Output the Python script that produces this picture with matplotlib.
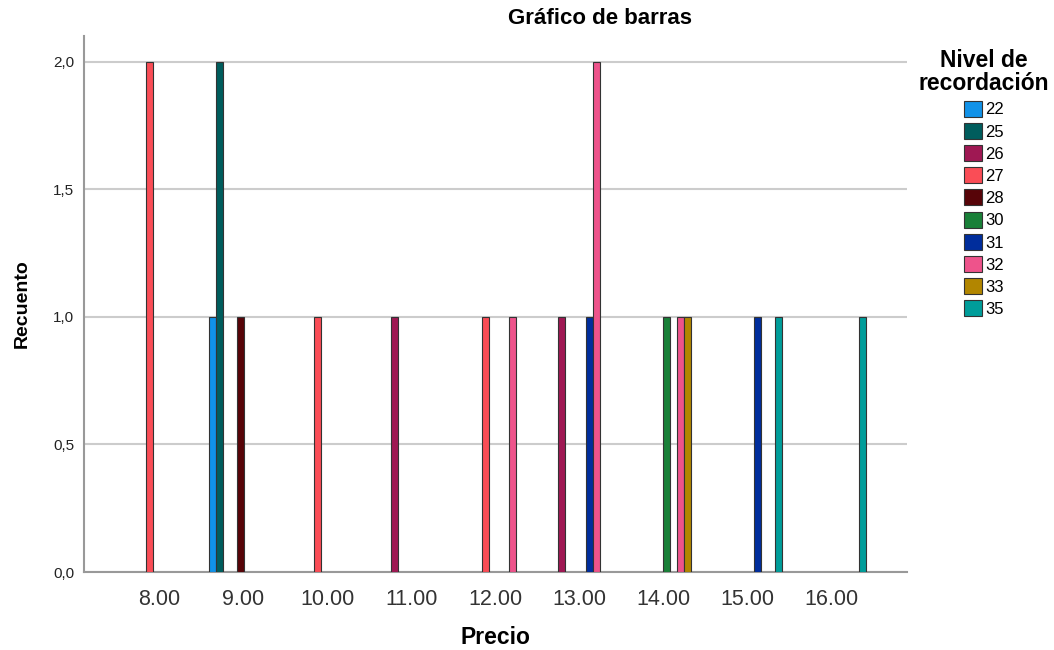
import matplotlib
matplotlib.use("Agg")
import matplotlib.pyplot as plt
from matplotlib.patches import Patch
import numpy as np

plt.rcParams['font.family'] = ['Liberation Sans', 'DejaVu Sans']

precios = ["8.00", "9.00", "10.00", "11.00", "12.00", "13.00", "14.00", "15.00", "16.00"]
niveles = ["22", "25", "26", "27", "28", "30", "31", "32", "33", "35"]
colores = ["#1192e8", "#005d5d", "#9f1853", "#fa4d56", "#570408",
           "#198038", "#002d9c", "#ee538b", "#b28600", "#009d9a"]

# recuento[nivel][precio]
recuento = {
    "22": [0, 1, 0, 0, 0, 0, 0, 0, 0],
    "25": [0, 2, 0, 0, 0, 0, 0, 0, 0],
    "26": [0, 0, 0, 1, 0, 1, 0, 0, 0],
    "27": [2, 0, 1, 0, 1, 0, 0, 0, 0],
    "28": [0, 1, 0, 0, 0, 0, 0, 0, 0],
    "30": [0, 0, 0, 0, 0, 0, 1, 0, 0],
    "31": [0, 0, 0, 0, 0, 1, 0, 1, 0],
    "32": [0, 0, 0, 0, 1, 2, 1, 0, 0],
    "33": [0, 0, 0, 0, 0, 0, 1, 0, 0],
    "35": [0, 0, 0, 0, 0, 0, 0, 1, 1],
}

fig = plt.figure(figsize=(10.54, 6.5), dpi=100)
ax = fig.add_axes([84/1054, 78/650, 823/1054, 536/650])

x = np.arange(len(precios))
w = 1/12

for j, (nivel, color) in enumerate(zip(niveles, colores)):
    vals = np.array(recuento[nivel])
    mask = vals > 0
    ax.bar(x[mask] + (j - 4.5) * w, vals[mask], width=w, color=color,
           edgecolor="#333333", linewidth=0.8, zorder=3)

ax.set_xlim(-0.9, len(precios) - 1 + 0.9)
ax.set_ylim(0, 2.1)
ax.set_yticks([0, 0.5, 1.0, 1.5, 2.0])
ax.set_yticklabels(["0,0", "0,5", "1,0", "1,5", "2,0"], fontsize=11, color="#222222")
ax.set_xticks(x)
ax.set_xticklabels(precios, fontsize=15.5, color="#333333")
ax.tick_params(axis='both', length=0)
ax.tick_params(axis='x', pad=12)
ax.tick_params(axis='y', pad=7)
ax.grid(axis='y', color="#cccccc", linewidth=1.5, zorder=0)

for s in ["top", "right"]:
    ax.spines[s].set_visible(False)
for s in ["left", "bottom"]:
    ax.spines[s].set_color("#999999")
    ax.spines[s].set_linewidth(1.5)

ax.set_xlabel("Precio", fontsize=16.5, fontweight="bold", labelpad=12)
ax.set_ylabel("Recuento", fontsize=14, fontweight="bold", labelpad=16)
fig.text(600/1054, 1 - 19/650, "Gráfico de barras", ha="center", va="center",
         fontsize=16, fontweight="bold")

handles = [Patch(facecolor=c, edgecolor="#333333", linewidth=0.8) for c in colores]
leg = fig.legend(handles, niveles, loc="upper center",
                 bbox_to_anchor=(984/1054, 1 - 41/650), frameon=False,
                 title="Nivel de\nrecordación", fontsize=12,
                 handlelength=1.1, handleheight=1.1, handletextpad=0.2,
                 labelspacing=0.33, borderpad=0)
leg.get_title().set_fontweight("bold")
leg.get_title().set_fontsize(16.5)
leg.get_title().set_multialignment("center")
leg.get_title().set_linespacing(1.0)

fig.savefig("out.png", dpi=100)
